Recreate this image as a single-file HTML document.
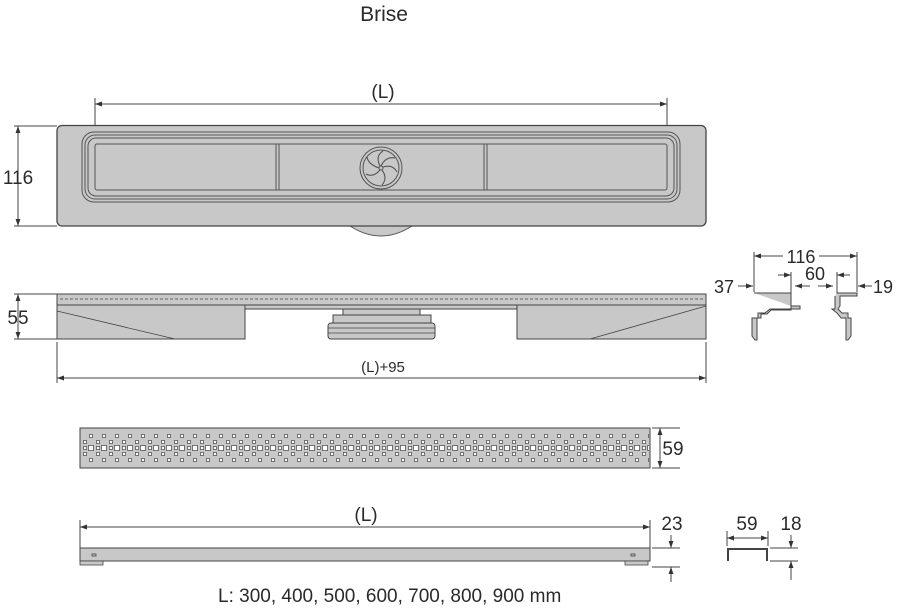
<!DOCTYPE html>
<html><head><meta charset="utf-8"><style>
html,body{margin:0;padding:0;background:#fff;}
svg{display:block;font-family:"Liberation Sans","DejaVu Sans",sans-serif;}
text{fill:#2a2a2a;}
</style></head><body>
<svg width="901" height="610" viewBox="0 0 901 610" xmlns="http://www.w3.org/2000/svg">
<defs>
<marker id="a" viewBox="0 0 10 10" refX="10" refY="5" markerWidth="7" markerHeight="7" orient="auto-start-reverse"><path d="M0,1.5 L10,5 L0,8.5z" fill="#333"/></marker>
<pattern id="g" x="84" y="0" width="13" height="610" patternUnits="userSpaceOnUse">
<g fill="#fff" stroke="#555" stroke-width="0.8">
<rect x="5.5" y="434.5" width="3" height="3"/>
<rect x="-0.5" y="440.5" width="3" height="3"/><rect x="12.5" y="440.5" width="3" height="3"/>
<rect x="4.5" y="445.5" width="5" height="5"/>
<rect x="-0.5" y="446.5" width="3" height="3"/><rect x="12.5" y="446.5" width="3" height="3"/>
<rect x="-0.5" y="452.5" width="3" height="3"/><rect x="12.5" y="452.5" width="3" height="3"/>
<rect x="5.5" y="458.5" width="3" height="3"/>
</g></pattern>
</defs>
<g font-size="21"><text x="384" y="21" text-anchor="middle">Brise</text></g>

<!-- top view -->
<g stroke="#444" stroke-width="1" fill="none">
<line x1="95" y1="98" x2="95" y2="126"/><line x1="667" y1="98" x2="667" y2="126"/>
<line x1="95" y1="104" x2="667" y2="104" marker-start="url(#a)" marker-end="url(#a)"/>
<line x1="14" y1="126" x2="57" y2="126"/><line x1="14" y1="226" x2="57" y2="226"/>
<line x1="18" y1="126" x2="18" y2="226" marker-start="url(#a)" marker-end="url(#a)"/>
</g>
<path d="M350,226 Q381,246 412,226Z" fill="#c8c8c8" stroke="#555"/>
<rect x="57" y="125.5" width="649" height="100.5" rx="5" fill="#c8c8c8" stroke="#444" stroke-width="1.3"/>
<g fill="none" stroke="#555" stroke-width="1">
<rect x="82" y="132" width="598" height="70" rx="12"/>
<rect x="85" y="135" width="592" height="64" rx="10"/>
<rect x="88" y="138" width="586" height="58" rx="8"/>
<rect x="95" y="144" width="572" height="46" rx="2"/>
<line x1="276" y1="144" x2="276" y2="190"/><line x1="279" y1="144" x2="279" y2="190"/>
<line x1="484" y1="144" x2="484" y2="190"/><line x1="487" y1="144" x2="487" y2="190"/>
<circle cx="381" cy="168" r="21"/><circle cx="381" cy="168" r="18"/>
<circle cx="381" cy="168" r="2"/>
<g stroke-width="1.1">
<path d="M381,166 Q386,156 395,158"/><path d="M383,167 Q393,164 397,172"/><path d="M382,170 Q388,178 382,185"/><path d="M380,170 Q373,178 366,174"/><path d="M379,168 Q368,164 367,157"/><path d="M380,166 Q375,156 383,151"/>
</g></g>
<g font-size="19"><text x="383" y="98" text-anchor="middle">(L)</text><text x="18" y="184" text-anchor="middle">116</text></g>

<!-- side view -->
<g stroke="#444" fill="none">
<line x1="14" y1="294" x2="57" y2="294"/><line x1="14" y1="339" x2="57" y2="339"/>
<line x1="18" y1="294" x2="18" y2="339" marker-start="url(#a)" marker-end="url(#a)"/>
<line x1="57" y1="342" x2="57" y2="383"/><line x1="706" y1="342" x2="706" y2="383"/>
<line x1="57" y1="378" x2="706" y2="378" marker-start="url(#a)" marker-end="url(#a)"/>
</g>
<g fill="#c8c8c8" stroke="#444" stroke-width="1">
<rect x="57" y="294" width="649" height="11"/>
<path d="M57,305 H245 V339 H57Z"/>
<path d="M517,305 H706 V339 H517Z"/>
<rect x="245" y="305" width="272" height="4"/>
<rect x="343" y="309" width="77" height="6"/>
<rect x="333" y="315" width="98" height="8"/>
<rect x="328" y="323" width="107" height="16" rx="3"/>
</g>
<g stroke="#444" fill="none" stroke-width="0.8">
<path d="M60,299 H703" stroke-dasharray="3 2"/>
<path d="M57,311 L175,339"/><path d="M706,306 L590,339"/>
<line x1="328" y1="328" x2="435" y2="328"/><line x1="328" y1="333" x2="435" y2="333"/>
</g>
<g font-size="19"><text x="18" y="324" text-anchor="middle">55</text></g>
<text x="383" y="372" text-anchor="middle" font-size="15">(L)+95</text>

<!-- cross sections -->
<g stroke="#444" fill="none" stroke-width="1">
<line x1="754" y1="252" x2="754" y2="292"/><line x1="857" y1="252" x2="857" y2="292"/>
<line x1="754" y1="256" x2="857" y2="256" marker-start="url(#a)" marker-end="url(#a)"/>
<line x1="791" y1="272" x2="791" y2="296"/><line x1="837" y1="272" x2="837" y2="296"/>
<line x1="778" y1="275" x2="791" y2="275" marker-end="url(#a)"/><line x1="850" y1="275" x2="837" y2="275" marker-end="url(#a)"/>
<line x1="738" y1="286" x2="753" y2="286" marker-end="url(#a)"/>
<line x1="872" y1="286" x2="858" y2="286" marker-end="url(#a)"/>
<line x1="795" y1="286" x2="810" y2="286" marker-start="url(#a)"/>
<line x1="818" y1="286" x2="833" y2="286" marker-end="url(#a)"/>
</g>
<g fill="#c8c8c8" stroke="#444" stroke-width="1">
<path d="M754,293 H791 V306 H800 V309 H770 L765,313 H758 V318 H752 V336 L755,340 H757 V318 H761 V314 H767 L771,310 H791 V306"/>
<path d="M837,293 H857 V296 H840 V306 L838,309 L842,313 H848 V318 H851 V336 L848,340 H846 V318 H841 L837,313 L832,309 H835 V296"/>
</g>
<g font-size="18"><rect x="783" y="246" width="36" height="18" fill="#fff"/><text x="801" y="263" text-anchor="middle">116</text>
<rect x="802" y="266" width="26" height="16" fill="#fff"/><text x="815" y="280" text-anchor="middle">60</text>
<text x="714" y="293">37</text><text x="873" y="293">19</text></g>

<!-- grate -->
<rect x="80" y="428" width="570" height="40" fill="#c8c8c8" stroke="#444"/>
<rect x="81" y="429" width="568" height="38" fill="url(#g)"/>
<g stroke="#444" fill="none">
<line x1="652" y1="428" x2="680" y2="428"/><line x1="652" y1="468" x2="680" y2="468"/>
<line x1="660" y1="428" x2="660" y2="468" marker-start="url(#a)" marker-end="url(#a)"/>
</g>
<rect x="662" y="440" width="24" height="18" fill="#fff"/>
<text x="673" y="455" text-anchor="middle" font-size="19">59</text>

<!-- bottom channel -->
<g stroke="#444" fill="none">
<line x1="80" y1="520" x2="80" y2="548"/><line x1="650" y1="520" x2="650" y2="548"/>
<line x1="80" y1="527" x2="650" y2="527" marker-start="url(#a)" marker-end="url(#a)"/>
<line x1="652" y1="548" x2="680" y2="548"/><line x1="652" y1="567" x2="680" y2="567"/>
<line x1="671" y1="535" x2="671" y2="548" marker-end="url(#a)"/>
<line x1="671" y1="582" x2="671" y2="567" marker-end="url(#a)"/>
<line x1="727" y1="531" x2="727" y2="546"/><line x1="768" y1="531" x2="768" y2="546"/>
<line x1="727" y1="538" x2="768" y2="538" marker-start="url(#a)" marker-end="url(#a)"/>
<line x1="770" y1="548" x2="798" y2="548"/><line x1="770" y1="561" x2="798" y2="561"/>
<line x1="791" y1="535" x2="791" y2="548" marker-end="url(#a)"/>
<line x1="791" y1="580" x2="791" y2="561" marker-end="url(#a)"/>
</g>
<rect x="80" y="548" width="570" height="13" fill="#c8c8c8" stroke="#444"/>
<g fill="#c8c8c8" stroke="#444" stroke-width="0.8">
<rect x="80" y="561" width="23" height="4"/><rect x="625" y="561" width="23" height="4"/>
<rect x="92" y="554" width="4" height="2"/><rect x="631" y="554" width="4" height="2"/>
</g>
<path d="M728,561 V549 H767 V561" fill="none" stroke="#444" stroke-width="2"/>
<g font-size="19">
<text x="366" y="521" text-anchor="middle">(L)</text>
<text x="672" y="530" text-anchor="middle">23</text>
<text x="747" y="530" text-anchor="middle">59</text>
<text x="791" y="530" text-anchor="middle">18</text>
<text x="218" y="602">L: 300, 400, 500, 600, 700, 800, 900 mm</text>
</g>
</svg>
</body></html>
